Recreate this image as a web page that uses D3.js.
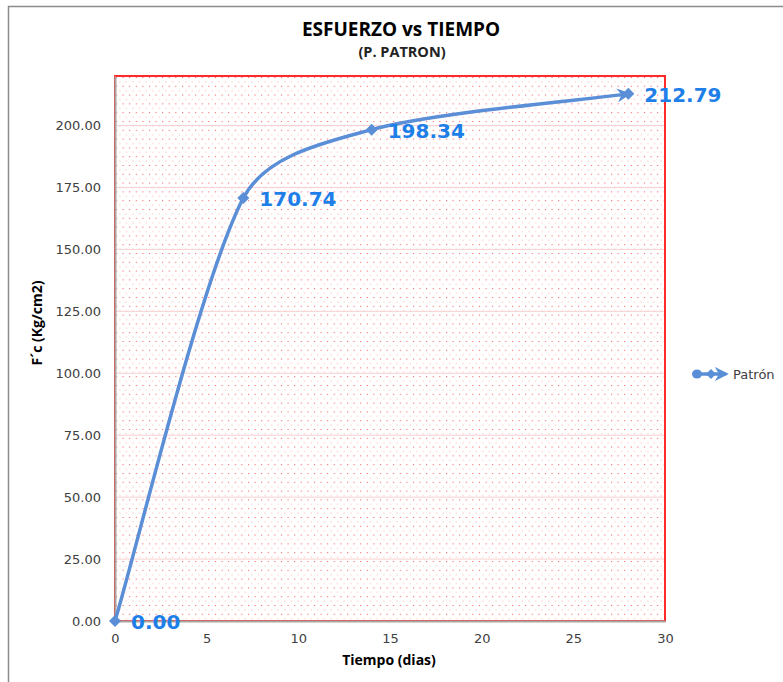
<!DOCTYPE html>
<html><head><meta charset="utf-8">
<script src="https://cdn.jsdelivr.net/npm/d3@7"></script>
<style>body{margin:0;background:#fff}svg{display:block}</style>
</head><body>
<script>
const days = [0, 7, 14, 28];
const strength = [0.00, 170.74, 198.34, 212.79];
const labels = ["0.00", "170.74", "198.34", "212.79"];
const yTicks = [0, 25, 50, 75, 100, 125, 150, 175, 200];
const xTicks = [0, 5, 10, 15, 20, 25, 30];
const seriesName = "Patrón";

const W = 783, H = 682;
const svg = d3.select("body").append("svg").attr("width", W).attr("height", H);
const L = 115, R = 665, T = 76, B = 621;
const x = d3.scaleLinear().domain([0, 30]).range([L, R]);
const y = d3.scaleLinear().domain([0, 220]).range([B, T]);
const blue = "#5a8ed6", lblBlue = "#1e7fe8";

const defs = svg.append("defs");
const pat = defs.append("pattern").attr("id", "dots").attr("patternUnits", "userSpaceOnUse")
  .attr("width", 6.6).attr("height", 8.8).attr("x", L).attr("y", T);
pat.append("rect").attr("x", 1).attr("y", 1).attr("width", 1).attr("height", 1).attr("fill", "#ff1a1a").attr("opacity", 0.8);
pat.append("rect").attr("x", 4.3).attr("y", 5.4).attr("width", 1).attr("height", 1).attr("fill", "#ff4040").attr("opacity", 0.45);
defs.append("marker").attr("id", "arr").attr("viewBox", "0 0 10 10").attr("refX", 8).attr("refY", 5)
  .attr("markerWidth", 4).attr("markerHeight", 4).attr("orient", "auto").attr("markerUnits", "strokeWidth")
  .append("path").attr("d", "M0,0 L10,5 L0,10 L3,5 Z").attr("fill", blue);

// outer chart border
svg.append("rect").attr("x", 8.5).attr("y", 6.5).attr("width", 800).attr("height", 700)
  .attr("fill", "none").attr("stroke", "#8c8c8c").attr("stroke-width", 1.5);

// plot area
svg.append("rect").attr("x", L).attr("y", T).attr("width", R - L).attr("height", B - T).attr("fill", "#fff");
svg.append("rect").attr("x", L).attr("y", T).attr("width", R - L).attr("height", B - T).attr("fill", "url(#dots)");
svg.append("g").selectAll("line").data(yTicks.filter(d => d > 0)).join("line")
  .attr("x1", L).attr("x2", R).attr("y1", d => y(d)).attr("y2", d => y(d))
  .attr("stroke", "#f6d0d0").attr("stroke-width", 1);
svg.append("rect").attr("x", L).attr("y", T).attr("width", R - L).attr("height", B - T)
  .attr("fill", "none").attr("stroke", "#ff2a2a").attr("stroke-width", 2);

// axes
const yAxis = svg.append("g").attr("transform", `translate(${L},0)`)
  .call(d3.axisLeft(y).tickValues(yTicks).tickSize(0).tickPadding(14).tickFormat(d3.format(".2f")));
const xAxis = svg.append("g").attr("transform", `translate(0,${B})`)
  .call(d3.axisBottom(x).tickValues(xTicks).tickSize(0).tickPadding(13).tickFormat(d3.format("d")));
[yAxis, xAxis].forEach(g => {
  g.select(".domain").attr("stroke", "#a6a6a6").attr("stroke-width", 2);
  g.selectAll("text").attr("fill", "#404040").style("font-family", "'DejaVu Sans', Verdana, sans-serif").style("font-size", "13px");
});

// smoothed line (Excel-like bezier smoothing with limited handles)
const pts = days.map((d, i) => [x(d), y(strength[i])]);
function smoothPath(p) {
  const n = p.length, path = d3.path();
  const dist = (a, b) => Math.hypot(b[0] - a[0], b[1] - a[1]);
  const tan = i => {
    const a = p[Math.max(0, i - 1)], b = p[Math.min(n - 1, i + 1)];
    return [(b[0] - a[0]) / 6, (b[1] - a[1]) / 6];
  };
  const handle = (i, segLen) => {
    const t = tan(i), len = Math.hypot(t[0], t[1]);
    const s = len > 0 ? Math.min(1, (segLen / 3) / len) : 0;
    return [t[0] * s, t[1] * s];
  };
  path.moveTo(p[0][0], p[0][1]);
  for (let i = 0; i < n - 1; i++) {
    const seg = dist(p[i], p[i + 1]);
    const h1 = handle(i, seg), h2 = handle(i + 1, seg);
    path.bezierCurveTo(p[i][0] + h1[0], p[i][1] + h1[1], p[i + 1][0] - h2[0], p[i + 1][1] - h2[1], p[i + 1][0], p[i + 1][1]);
  }
  return path.toString();
}
svg.append("path").attr("fill", "none").attr("stroke", blue).attr("stroke-width", 3.5)
  .attr("stroke-linecap", "round")
  .attr("d", smoothPath(pts))
  .attr("marker-end", "url(#arr)");
svg.append("g").selectAll("path").data(pts).join("path")
  .attr("transform", d => `translate(${d[0]},${d[1]})`)
  .attr("d", "M0,-6 L6,0 L0,6 L-6,0 Z").attr("fill", blue);

// data labels
svg.append("g").selectAll("text").data(days).join("text")
  .attr("x", d => x(d) + 16).attr("y", (d, i) => y(strength[i]) + 8)
  .text((d, i) => labels[i])
  .attr("fill", lblBlue).style("font-family", "'DejaVu Sans', Verdana, sans-serif")
  .style("font-weight", "bold").style("font-size", "20px");

// titles
const tf = "'Open Sans', 'Liberation Sans', sans-serif";
svg.append("text").attr("x", 401).attr("y", 35.5).attr("text-anchor", "middle")
  .style("font-family", tf).style("font-weight", "bold").style("font-size", "19px").attr("fill", "#000")
  .text("ESFUERZO vs TIEMPO");
svg.append("text").attr("x", 402).attr("y", 57).attr("text-anchor", "middle")
  .style("font-family", tf).style("font-weight", "bold").style("font-size", "14.5px").attr("fill", "#222")
  .text("(P. PATRON)");
svg.append("text").attr("x", 389).attr("y", 665).attr("text-anchor", "middle")
  .style("font-family", tf).style("font-weight", "bold").style("font-size", "14px").attr("fill", "#000")
  .text("Tiempo (dias)");
svg.append("text").attr("transform", "translate(42,323) rotate(-90)").attr("text-anchor", "middle")
  .style("font-family", tf).style("font-weight", "bold").style("font-size", "14px").attr("fill", "#000")
  .text("F´c (Kg/cm2)");

// legend
const lg = svg.append("g").attr("transform", "translate(0,374)");
lg.append("line").attr("x1", 697).attr("x2", 726).attr("y1", 0).attr("y2", 0)
  .attr("stroke", blue).attr("stroke-width", 3.5).attr("marker-end", "url(#arr)");
lg.append("ellipse").attr("cx", 697).attr("cy", 0).attr("rx", 5).attr("ry", 4.5).attr("fill", blue);
lg.append("path").attr("transform", "translate(711,0)").attr("d", "M0,-5 L5,0 L0,5 L-5,0 Z").attr("fill", blue);
lg.append("text").attr("x", 733).attr("y", 5).text(seriesName)
  .attr("fill", "#404040").style("font-family", "'DejaVu Sans', Verdana, sans-serif").style("font-size", "13px");
</script>
</body></html>
